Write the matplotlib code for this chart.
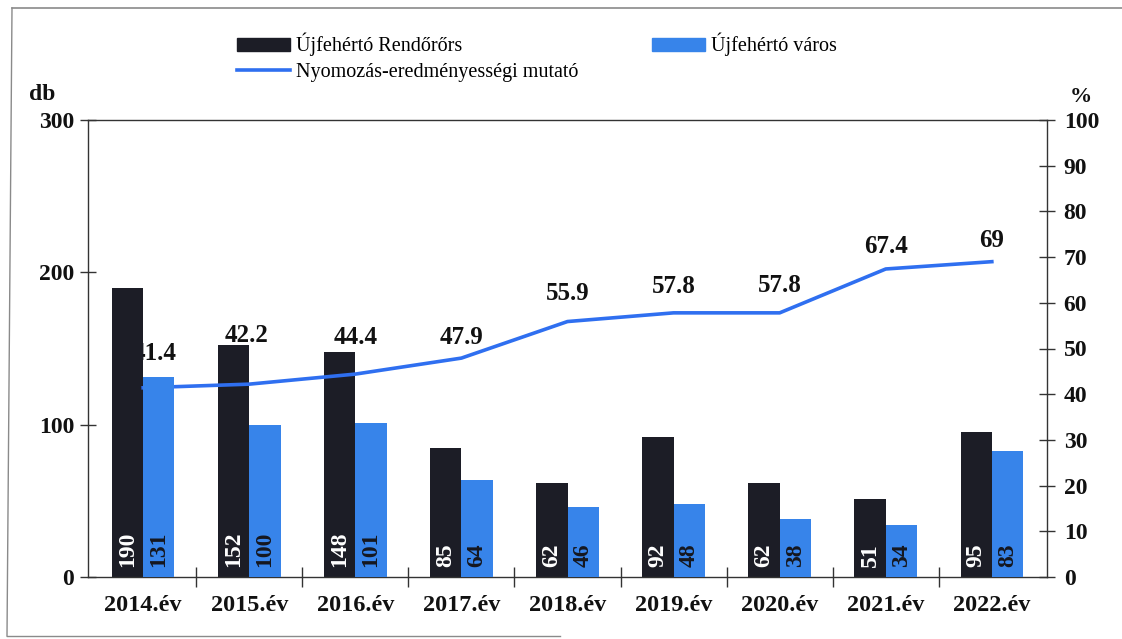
import matplotlib
matplotlib.use("Agg")
import matplotlib.pyplot as plt
from matplotlib.patches import Patch
from matplotlib.lines import Line2D
from matplotlib.transforms import offset_copy
import numpy as np

plt.rcParams['font.family'] = ['Liberation Serif', 'DejaVu Serif']

years = ["2014.év", "2015.év", "2016.év", "2017.év", "2018.év",
         "2019.év", "2020.év", "2021.év", "2022.év"]
rendororse = [190, 152, 148, 85, 62, 92, 62, 51, 95]
varos = [131, 100, 101, 64, 46, 48, 38, 34, 83]
mutato = [41.4, 42.2, 44.4, 47.9, 55.9, 57.8, 57.8, 67.4, 69]
mutato_labels = ["41.4", "42.2", "44.4", "47.9", "55.9", "57.8", "57.8", "67.4", "69"]

# label placement styling (points)
label_dy = [25, 35, 26, 15, 20, 19, 20, 16, 15]
label_dx = [8, -2, 0, 0, 0, 0, 0, 0, 0]

black_c = '#1c1d26'
blue_c = '#3784ea'
line_c = '#2f6ff0'
txt_c = '#111111'
spine_c = '#333333'

fig = plt.figure(figsize=(11.22, 6.39), dpi=100)
ax = fig.add_axes([88/1122, 1-577/639, (1047-88)/1122, (577-120)/639])
ax2 = ax.twinx()

x = np.arange(len(years))
w = 0.295
ax.bar(x - w/2, rendororse, width=w, color=black_c, zorder=2)
ax.bar(x + w/2, varos, width=w, color=blue_c, zorder=4)

ax.set_xlim(-0.52, 8.52)
ax.set_ylim(0, 300)
ax2.set_ylim(0, 100)

# line drawn inside ax (for layering) but on the right-axis scale
ax.plot(x, mutato, color=line_c, lw=2.6, transform=ax2.transData, zorder=3,
        solid_joinstyle='round')

for i, (xi, v, lab) in enumerate(zip(x, mutato, mutato_labels)):
    tr = offset_copy(ax2.transData, fig=fig, x=label_dx[i], y=label_dy[i], units='points')
    ax.text(xi, v, lab, transform=tr, ha='center', va='center', fontsize=18,
            fontweight='bold', color=txt_c, zorder=1.5 if i == 0 else 6, clip_on=False)

# bar value labels
for xi, v in zip(x, rendororse):
    tr = offset_copy(ax.transData, fig=fig, x=0, y=7, units='points')
    ax.text(xi - w/2, 0, str(v), transform=tr, rotation=90, ha='center', va='bottom',
            fontsize=17, fontweight='bold', color='white', zorder=7)
for xi, v in zip(x, varos):
    tr = offset_copy(ax.transData, fig=fig, x=0, y=7, units='points')
    ax.text(xi + w/2, 0, str(v), transform=tr, rotation=90, ha='center', va='bottom',
            fontsize=17, fontweight='bold', color='#15171f', zorder=7)

# spines
for s in ['left', 'top', 'bottom']:
    ax.spines[s].set_color(spine_c)
    ax.spines[s].set_linewidth(1.0)
ax.spines['right'].set_visible(False)
for s in ['left', 'top', 'bottom']:
    ax2.spines[s].set_visible(False)
ax2.spines['right'].set_color(spine_c)
ax2.spines['right'].set_linewidth(1.0)

ax.set_yticks([0, 100, 200, 300])
ax.tick_params(axis='y', direction='inout', length=12, width=1, color=spine_c,
               labelsize=17, pad=4, labelcolor=txt_c)
ax2.set_yticks(np.arange(0, 101, 10))
ax2.tick_params(axis='y', direction='inout', length=12, width=1, color=spine_c,
                labelsize=17, pad=6, labelcolor=txt_c)
for lab in ax.get_yticklabels() + ax2.get_yticklabels():
    lab.set_fontweight('bold')

ax.set_xticks(x)
ax.set_xticklabels(years, fontsize=17.5, fontweight='bold', color=txt_c)
ax.set_xticks(np.arange(0.5, 8.5, 1.0), minor=True)
ax.tick_params(axis='x', which='major', length=0, pad=13)
ax.tick_params(axis='x', which='minor', direction='inout', length=14, width=1, color=spine_c)

# axis unit labels
fig.text(42/1122, 1-94/639, "db", fontsize=17, fontweight='bold', ha='center', va='center', color=txt_c)
fig.text(1081/1122, 1-107/639, "%", fontsize=16, fontweight='bold', ha='center', va='bottom', color=txt_c)

# legends
h1 = [Patch(facecolor=black_c, edgecolor=black_c),
      Line2D([0], [0], color=line_c, lw=2.6)]
l1 = fig.legend(h1, ["Újfehértó Rendőrőrs", "Nyomozás-eredményességi mutató"],
                loc='upper left', bbox_to_anchor=(237/1122, 1-33/639), frameon=False,
                fontsize=14.5, handlelength=2.65, handleheight=0.6, handletextpad=0.3,
                labelspacing=0.3, borderpad=0, borderaxespad=0)
h2 = [Patch(facecolor=blue_c, edgecolor=blue_c)]
l2 = fig.legend(h2, ["Újfehértó város"],
                loc='upper left', bbox_to_anchor=(652/1122, 1-33/639), frameon=False,
                fontsize=14.5, handlelength=2.65, handleheight=0.6, handletextpad=0.3,
                borderpad=0, borderaxespad=0)

# outer frame lines (left, top, bottom)
fc = '#8a8a8a'
fig.add_artist(Line2D([12/1122, 1.0], [1-8/639, 1-8/639], color=fc, lw=1.2, transform=fig.transFigure))
fig.add_artist(Line2D([7/1122, 12/1122], [1-636/639, 1-8/639], color=fc, lw=1.0, transform=fig.transFigure))
fig.add_artist(Line2D([7/1122, 560/1122], [1-636/639, 1-636/639], color=fc, lw=1.0, transform=fig.transFigure))

fig.savefig("out.png", dpi=100)
